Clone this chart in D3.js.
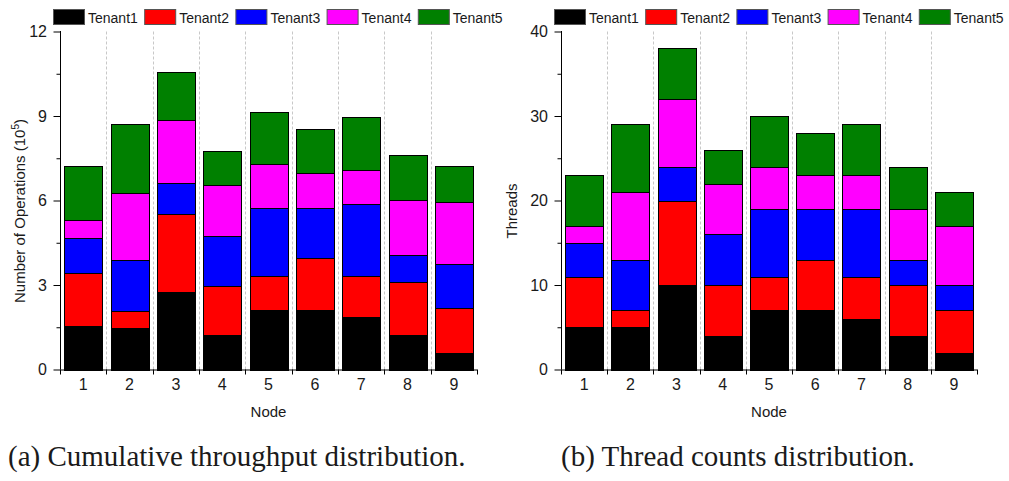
<!DOCTYPE html>
<html>
<head>
<meta charset="utf-8">
<script src="https://cdn.jsdelivr.net/npm/d3@7"></script>
<style>
  html, body { margin: 0; padding: 0; background: #fff; }
  svg { display: block; }
  text { font-family: "Liberation Sans", Arial, sans-serif; fill: #1a1a1a; }
</style>
</head>
<body>
<svg id="chart" width="1009" height="481"></svg>
<script>
// ---- data ----
const nodes = ["1", "2", "3", "4", "5", "6", "7", "8", "9"];
const tenants = ["Tenant1", "Tenant2", "Tenant3", "Tenant4", "Tenant5"];
const tenantColors = ["#000000", "#ff0000", "#0000ff", "#ff00ff", "#008000"];

// (a) Number of operations (10^5) per tenant per node
const opsTenant1 = [1.56, 1.49, 2.74, 1.21, 2.13, 2.13, 1.85, 1.24, 0.60];
const opsTenant2 = [1.87, 0.57, 2.78, 1.74, 1.19, 1.83, 1.47, 1.87, 1.58];
const opsTenant3 = [1.24, 1.82, 1.10, 1.79, 2.43, 1.79, 2.54, 0.96, 1.58];
const opsTenant4 = [0.63, 2.40, 2.24, 1.81, 1.55, 1.24, 1.23, 1.95, 2.19];
const opsTenant5 = [1.93, 2.45, 1.69, 1.19, 1.85, 1.56, 1.88, 1.60, 1.28];

// (b) Thread counts per tenant per node
const thrTenant1 = [5, 5, 10, 4, 7, 7, 6, 4, 2];
const thrTenant2 = [6, 2, 10, 6, 4, 6, 5, 6, 5];
const thrTenant3 = [4, 6, 4, 6, 8, 6, 8, 3, 3];
const thrTenant4 = [2, 8, 8, 6, 5, 4, 4, 6, 7];
const thrTenant5 = [6, 8, 6, 4, 6, 5, 6, 5, 4];

const opsTicks = [0, 3, 6, 9, 12];
const opsMinorTicks = [1.5, 4.5, 7.5, 10.5];
const thrTicks = [0, 10, 20, 30, 40];
const thrMinorTicks = [5, 15, 25, 35];

const xTitle = "Node";
const captionA = "(a) Cumulative throughput distribution.";
const captionB = "(b) Thread counts distribution.";

// ---- drawing ----
const svg = d3.select("#chart");

function buildRows(series) {
  return nodes.map((n, i) => {
    const r = { node: n };
    tenants.forEach((t, k) => { r[t] = series[k][i]; });
    return r;
  });
}

function drawPanel(cfg) {
  const g = svg.append("g");
  const yBottom = 369.5, yTop = 31.5;
  const x = d3.scaleBand().domain(nodes).range([cfg.x0, cfg.x1])
    .paddingInner(0.18).paddingOuter(0.09);
  const y = d3.scaleLinear().domain([0, cfg.max]).range([yBottom, yTop]);
  const step = x.step();
  const bound = i => cfg.x0 + i * step;

  // dashed vertical grid at category boundaries
  g.append("g").selectAll("line").data(d3.range(1, nodes.length))
    .join("line")
    .attr("x1", i => Math.round(bound(i)) + 0.5).attr("x2", i => Math.round(bound(i)) + 0.5)
    .attr("y1", yTop).attr("y2", yBottom)
    .attr("stroke", "#c8c8c8").attr("stroke-width", 1).attr("stroke-dasharray", "3,2");

  // stacked bars
  const stacked = d3.stack().keys(tenants)(buildRows(cfg.series));
  g.append("g").selectAll("g").data(stacked).join("g")
    .attr("fill", (d, k) => tenantColors[k])
    .selectAll("rect").data(d => d).join("rect")
    .attr("x", d => Math.round(x(d.data.node)) + 0.5)
    .attr("width", Math.round(x.bandwidth()))
    .attr("y", d => Math.round(y(d[1])) + 0.5)
    .attr("height", d => Math.round(y(d[0])) - Math.round(y(d[1])))
    .attr("stroke", "#000").attr("stroke-width", 1);

  // y axis
  const yAxis = g.append("g").attr("transform", `translate(${cfg.x0},0)`)
    .call(d3.axisLeft(y).tickValues(cfg.ticks).tickSize(7).tickSizeOuter(0).tickPadding(6).tickFormat(d3.format("d")));
  yAxis.selectAll("text").style("font-size", "16px").attr("fill", "#1a1a1a");
  yAxis.select(".domain").attr("stroke", "#000").attr("d", `M0.5,${yBottom}V${yTop - 0.5}`);
  yAxis.selectAll(".tick line").attr("stroke", "#000").attr("x1", 0.5).attr("x2", -6.5);
  g.append("g").attr("transform", `translate(${cfg.x0},0)`)
    .call(d3.axisLeft(y).tickValues(cfg.minor).tickSize(4).tickFormat(""))
    .call(s => s.select(".domain").remove())
    .selectAll(".tick line").attr("stroke", "#000").attr("x1", 0.5).attr("x2", -3.5);

  // x axis: line + ticks at boundaries + labels at centers
  const xAxis = g.append("g").attr("transform", `translate(0,${yBottom})`)
    .call(d3.axisBottom(x).tickSize(0).tickPadding(9));
  xAxis.select(".domain").attr("stroke", "#000").attr("d", `M${cfg.x0},0.5H${cfg.x1}`);
  xAxis.selectAll("text").style("font-size", "16px").attr("fill", "#1a1a1a");
  xAxis.append("g").selectAll("line").data(d3.range(0, nodes.length + 1)).join("line")
    .attr("x1", i => Math.round(bound(i)) + 0.5).attr("x2", i => Math.round(bound(i)) + 0.5)
    .attr("y1", 0).attr("y2", 5).attr("stroke", "#000");

  // axis titles
  g.append("text").attr("x", (cfg.x0 + cfg.x1) / 2).attr("y", 417)
    .attr("text-anchor", "middle").style("font-size", "15px").text(xTitle);
  const yt = g.append("text")
    .attr("transform", `translate(${cfg.yTitleX},211) rotate(-90)`)
    .attr("text-anchor", "middle").style("font-size", "15px");
  yt.append("tspan").text(cfg.yTitle);
  if (cfg.yTitleSup) {
    yt.append("tspan").attr("dy", -6).style("font-size", "10px").text(cfg.yTitleSup);
    yt.append("tspan").attr("dy", 6).text(")");
  }

  // legend
  const lg = g.append("g");
  tenants.forEach((t, k) => {
    const lx = cfg.legendX + k * 91.2;
    lg.append("rect").attr("x", lx + 0.5).attr("y", 9.5).attr("width", 31).attr("height", 15)
      .attr("fill", tenantColors[k]).attr("stroke", "#555").attr("stroke-width", 1);
    lg.append("text").attr("x", lx + 35).attr("y", 22.5).style("font-size", "14px").text(t);
  });

  // caption
  svg.append("text").attr("x", cfg.captionX).attr("y", 466)
    .style("font-family", "'Liberation Serif', 'Times New Roman', serif")
    .style("font-size", "29px").attr("fill", "#000").text(cfg.caption);
}

drawPanel({
  x0: 60, x1: 477, max: 12, ticks: opsTicks, minor: opsMinorTicks,
  series: [opsTenant1, opsTenant2, opsTenant3, opsTenant4, opsTenant5],
  yTitle: "Number of Operations (10", yTitleSup: "5", yTitleX: 25,
  legendX: 53, caption: captionA, captionX: 8
});
drawPanel({
  x0: 561, x1: 977, max: 40, ticks: thrTicks, minor: thrMinorTicks,
  series: [thrTenant1, thrTenant2, thrTenant3, thrTenant4, thrTenant5],
  yTitle: "Threads", yTitleSup: null, yTitleX: 517,
  legendX: 554, caption: captionB, captionX: 561
});
</script>
</body>
</html>
